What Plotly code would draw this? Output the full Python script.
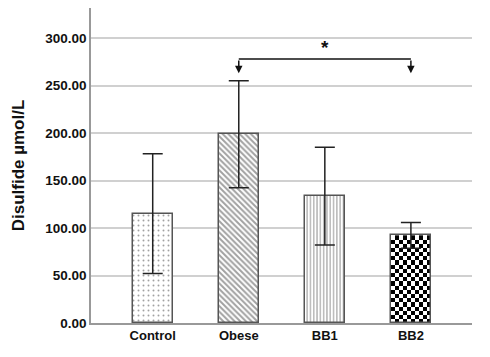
import numpy as np
import plotly.graph_objects as go

categories = ["Control", "Obese", "BB1", "BB2"]
means = [115.2, 198.6, 133.5, 92.3]
sds = [63.0, 56.3, 51.4, 13.5]
patterns = [".", "\\", "|", ""]
sig_label = "*"
sig_pair = (1, 3)
sig_level = 278.0
sig_tip = 263.0

BAR_W = 0.465
xs = list(range(len(categories)))

fig = go.Figure()

# checkerboard fill for BB2 (drawn as heatmap cells inside the bar)
i_cb = 3
nx = 10
ny = int(round(means[i_cb] / 4.4))
xe = np.linspace(xs[i_cb] - BAR_W / 2, xs[i_cb] + BAR_W / 2, nx + 1)
ye = np.linspace(0, means[i_cb], ny + 1)
z = [[(r + c) % 2 for c in range(nx)] for r in range(ny)]
fig.add_trace(go.Heatmap(x=xe, y=ye, z=z, colorscale=[[0, "#ffffff"], [1, "#000000"]],
                         showscale=False, hoverinfo="skip", zmin=0, zmax=1))

fig.add_trace(go.Bar(
    x=xs, y=means, width=BAR_W,
    marker=dict(
        color=["#ffffff", "#ffffff", "#ffffff", "rgba(0,0,0,0)"],
        line=dict(color="#555555", width=1.5),
        pattern=dict(shape=patterns, fgcolor=["#777777", "#1a1a1a", "#555555", "#000000"],
                     bgcolor=["#ffffff", "#ffffff", "#ffffff", "rgba(0,0,0,0)"],
                     size=[5, 4, 3.3, 5], solidity=[0.12, 0.5, 0.35, 0.3]),
    ),
    error_y=dict(type="data", array=sds, color="#222222", thickness=1.5, width=10),
    showlegend=False,
))

a, b = sig_pair
fig.add_shape(type="line", x0=a, x1=b, y0=sig_level, y1=sig_level, xref="x", yref="y",
              line=dict(color="#111111", width=1.5))
for xi in sig_pair:
    fig.add_annotation(x=xi, y=sig_tip, ax=xi, ay=sig_level, xref="x", yref="y", axref="x", ayref="y",
                       showarrow=True, arrowhead=2, arrowsize=1, arrowwidth=1.5, arrowcolor="#111111", text="")
fig.add_annotation(x=(a + b) / 2, y=sig_level, yshift=11, text="<b>" + sig_label + "</b>", showarrow=False,
                   xref="x", yref="y", font=dict(size=19, color="#111111"))

fig.update_layout(
    width=490, height=357,
    margin=dict(l=83, r=26, t=0, b=42, autoexpand=False),
    paper_bgcolor="white", plot_bgcolor="white",
    font=dict(family="Liberation Sans, Arial, sans-serif", color="#111111"),
    bargap=0,
)
fig.update_xaxes(range=[-0.717, 3.71], tickvals=xs, ticktext=["<b>%s</b>" % c for c in categories],
                 showgrid=False, showline=True, linecolor="#999999", linewidth=1.5,
                 tickfont=dict(size=13), ticks="", zeroline=False)
fig.update_yaxes(range=[0, 331.6], dtick=50, tickformat=".2f", showgrid=True, gridcolor="#d0d0d0", gridwidth=1.5,
                 showline=True, linecolor="#999999", linewidth=1.5, zeroline=False,
                 tickfont=dict(size=13.5, weight="bold"), ticks="",
                 title=dict(text="<b>Disulfide µmol/L</b>", font=dict(size=17), standoff=16))

fig.write_html("out.html")
